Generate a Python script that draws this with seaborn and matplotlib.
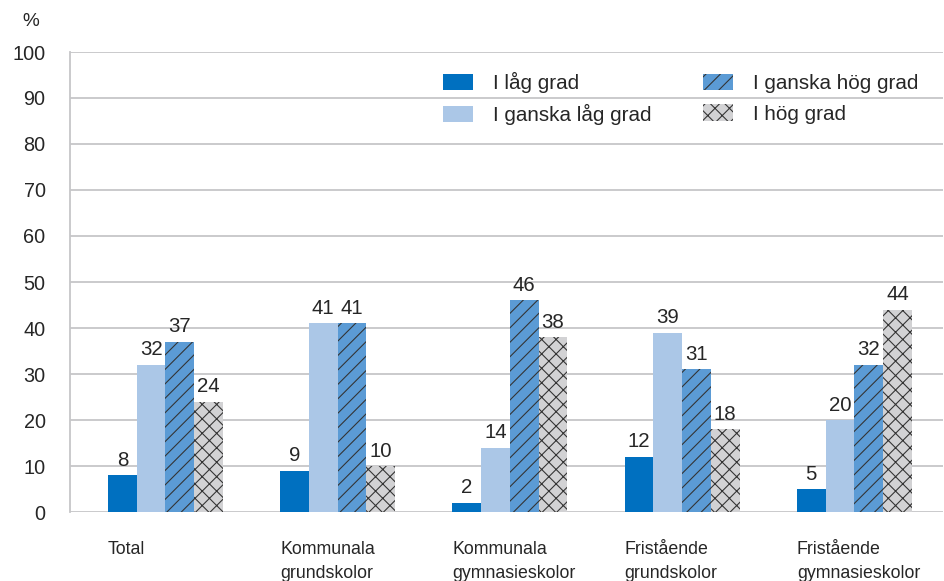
import pandas as pd
import matplotlib
matplotlib.use("Agg")
import matplotlib.pyplot as plt
import seaborn as sns

skolor = ["Total", "Kommunala\ngrundskolor", "Kommunala\ngymnasieskolor",
          "Fristående\ngrundskolor", "Fristående\ngymnasieskolor"]
grader = ["I låg grad", "I ganska låg grad", "I ganska hög grad", "I hög grad"]

lag = [8, 9, 2, 12, 5]
ganska_lag = [32, 41, 14, 39, 20]
ganska_hog = [37, 41, 46, 31, 32]
hog = [24, 10, 38, 18, 44]

farger = ["#0070C0", "#ABC7E7", "#5B9BD5", "#D2D2D4"]
monster = ["", "", "///", "xxx"]

rows = []
for grad, vals in zip(grader, [lag, ganska_lag, ganska_hog, hog]):
    for s, v in zip(skolor, vals):
        rows.append({"Skola": s, "Grad": grad, "Andel": v})
df = pd.DataFrame(rows)

sns.set_style("white")
plt.rcParams["font.family"] = ["Liberation Sans", "DejaVu Sans"]
plt.rcParams["hatch.linewidth"] = 0.6
plt.rcParams["text.color"] = "#262626"

dpi = 130
fig = plt.figure(figsize=(944 / dpi, 581 / dpi), dpi=dpi)
ax = fig.add_axes([70 / 944, 1 - 512 / 581, 873 / 944, 460 / 581])

bredd = 0.667
sns.barplot(data=df, x="Skola", y="Andel", hue="Grad", hue_order=grader,
            palette=farger, saturation=1, width=bredd, errorbar=None,
            legend=False, ax=ax)

for cont, m in zip(ax.containers, monster):
    for p in cont:
        p.set_hatch(m)
        p.set_edgecolor("#333333")
        p.set_linewidth(0)
    ax.bar_label(cont, fmt="%.0f", padding=3, fontsize=11.3, color="#262626")

ax.set_ylim(0, 100)
ax.set_yticks(range(0, 101, 10))
ax.set_xlim(-0.554, 4.515)
ax.yaxis.grid(True, color="#C6C6C8", linewidth=1.0)
ax.set_axisbelow(True)
ax.tick_params(axis="y", length=4.5, width=1.0, color="#C6C6C8",
               pad=9, labelsize=11, labelcolor="#262626")
ax.set_xticks([i - bredd / 2 for i in range(len(skolor))])
ax.set_xticklabels(skolor, ha="left", linespacing=1.55, fontsize=9.8)
ax.tick_params(axis="x", length=0, pad=16, labelcolor="#262626")
ax.set_xlabel("")
ax.set_ylabel("")

for side in ["top", "right", "bottom"]:
    ax.spines[side].set_visible(False)
ax.spines["left"].set_color("#C6C6C8")
ax.spines["left"].set_linewidth(1.0)

fig.text(31 / 944, 1 - 21 / 581, "%", ha="center", va="center", fontsize=10.5)

ax.legend(ax.containers, grader, ncol=2, frameon=False, fontsize=11.4,
          loc="upper left", bbox_to_anchor=(443 / 944, 1 - 72 / 581),
          bbox_transform=fig.transFigure, borderaxespad=0, borderpad=0,
          handlelength=1.45, handleheight=0.83, handletextpad=0.97,
          labelspacing=0.55, columnspacing=2.5)

fig.savefig("out.png", dpi=dpi)
